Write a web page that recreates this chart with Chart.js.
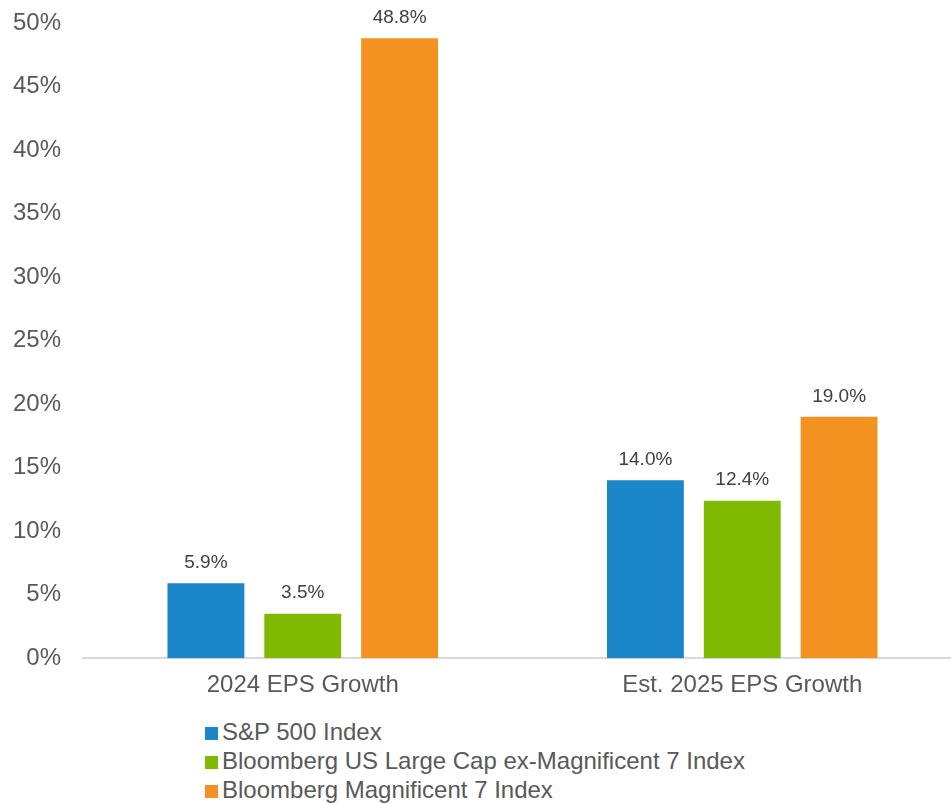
<!DOCTYPE html>
<html>
<head>
<meta charset="utf-8">
<script src="https://cdn.jsdelivr.net/npm/chart.js@4.4.0/dist/chart.umd.min.js"></script>
<style>
  html, body { margin: 0; padding: 0; background: #fff; overflow: hidden; }
  #wrap { position: relative; width: 962px; height: 705px; }
  #legend { margin: 12px 0 0 205px; font-family: "Liberation Sans", Arial, sans-serif; font-size: 24px; color: #595959; }
  #legend div { height: 29px; line-height: 29px; white-space: nowrap; }
  #legend span { display: inline-block; width: 13px; height: 13px; margin-right: 4px; vertical-align: 0px; }
</style>
</head>
<body>
<div id="wrap"><canvas id="epsChart"></canvas></div>
<div id="legend"></div>
<script>
// Catégories et valeurs
const categories = ['2024 EPS Growth', 'Est. 2025 EPS Growth'];
const seriesNames = ['S&P 500 Index', 'Bloomberg US Large Cap ex-Magnificent 7 Index', 'Bloomberg Magnificent 7 Index'];
const sp500 = [5.9, 14.0];
const exMag7 = [3.5, 12.4];
const mag7 = [48.8, 19.0];
const yTicks = [0, 5, 10, 15, 20, 25, 30, 35, 40, 45, 50];

const colors = ['#1B87C9', '#80BA00', '#F39220'];
const fontFamily = '"Liberation Sans", Arial, sans-serif';

// Étiquettes de valeurs au-dessus des barres
const barLabels = {
    id: 'barLabels',
    afterDatasetsDraw(chart) {
        const ctx = chart.ctx;
        ctx.save();
        ctx.font = '19px ' + fontFamily;
        ctx.fillStyle = '#404040';
        ctx.textAlign = 'center';
        ctx.textBaseline = 'bottom';
        chart.data.datasets.forEach((ds, i) => {
            chart.getDatasetMeta(i).data.forEach((bar, j) => {
                ctx.fillText(ds.data[j].toFixed(1) + '%', bar.x, bar.y - 11);
            });
        });
        ctx.restore();
    }
};

const ctx = document.getElementById('epsChart').getContext('2d');
const chart = new Chart(ctx, {
    type: 'bar',
    data: {
        labels: categories,
        datasets: [sp500, exMag7, mag7].map((data, i) => ({
            label: seriesNames[i],
            data: data,
            backgroundColor: colors[i],
            categoryPercentage: 0.661,
            barPercentage: 0.794
        }))
    },
    options: {
        responsive: true,
        maintainAspectRatio: false,
        animation: false,
        layout: { padding: { top: 23, left: 12, right: 0, bottom: 0 } },
        plugins: {
            legend: { display: false },
            tooltip: { enabled: false }
        },
        scales: {
            x: {
                grid: { display: false },
                border: { color: '#D9D9D9', width: 2 },
                ticks: { color: '#595959', font: { family: fontFamily, size: 24 }, padding: 5 }
            },
            y: {
                min: 0,
                max: 50,
                afterBuildTicks: axis => { axis.ticks = yTicks.map(v => ({ value: v })); },
                afterFit: axis => {
                    axis.width = 71;
                    axis.paddingTop = 0;
                    axis.paddingBottom = 0;
                },
                grid: { display: false, drawTicks: false },
                border: { display: false },
                ticks: {
                    color: '#595959',
                    font: { family: fontFamily, size: 24 },
                    padding: 22,
                    callback: v => v + '%'
                }
            }
        }
    },
    plugins: [barLabels]
});

// Légende construite à partir des séries
const legend = document.getElementById('legend');
chart.data.datasets.forEach(ds => {
    const row = document.createElement('div');
    row.innerHTML = `<span style="background:${ds.backgroundColor}"></span>${ds.label}`;
    legend.appendChild(row);
});
</script>
</body>
</html>
